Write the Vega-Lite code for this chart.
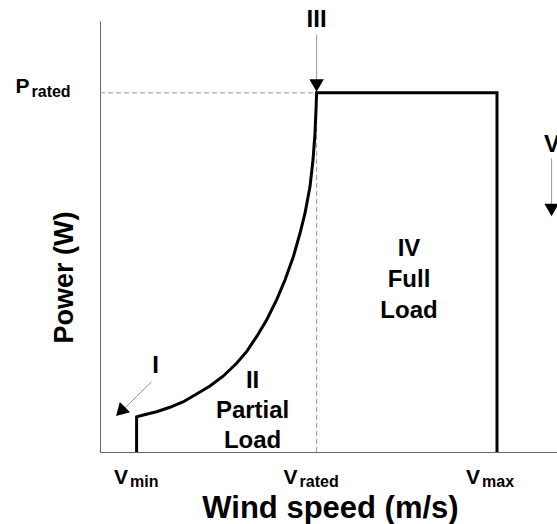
{
  "$schema": "https://vega.github.io/schema/vega-lite/v6.json",
  "width": 457,
  "height": 431,
  "autosize": {"type": "none"},
  "padding": {"left": 100, "top": 21, "right": 0, "bottom": 72},
  "background": "white",
  "config": {"view": {"stroke": null}, "font": "Liberation Sans"},
  "datasets": {
    "power": [
      {"i": 0, "x": 1.83, "y": 0},
      {"i": 1, "x": 1.83, "y": 0.098},
      {"i": 2, "x": 2.17, "y": 0.103},
      {"i": 3, "x": 2.83, "y": 0.112},
      {"i": 4, "x": 3.5, "y": 0.1245},
      {"i": 5, "x": 4.17, "y": 0.14},
      {"i": 6, "x": 4.83, "y": 0.1616},
      {"i": 7, "x": 5.5, "y": 0.184},
      {"i": 8, "x": 6.17, "y": 0.2117},
      {"i": 9, "x": 6.83, "y": 0.247},
      {"i": 10, "x": 7.33, "y": 0.2794},
      {"i": 11, "x": 7.83, "y": 0.321},
      {"i": 12, "x": 8.33, "y": 0.3677},
      {"i": 13, "x": 8.83, "y": 0.4234},
      {"i": 14, "x": 9.25, "y": 0.479},
      {"i": 15, "x": 9.67, "y": 0.544},
      {"i": 16, "x": 10.0, "y": 0.609},
      {"i": 17, "x": 10.25, "y": 0.665},
      {"i": 18, "x": 10.5, "y": 0.739},
      {"i": 19, "x": 10.65, "y": 0.813},
      {"i": 20, "x": 10.75, "y": 0.888},
      {"i": 21, "x": 10.8, "y": 0.953},
      {"i": 22, "x": 10.83, "y": 1.0},
      {"i": 23, "x": 19.85, "y": 1.0},
      {"i": 24, "x": 19.85, "y": 0}
    ],
    "guides": [
      {"x": 0, "y": 1, "x2": 10.83, "y2": 1},
      {"x": 10.83, "y": 0, "x2": 10.83, "y2": 1}
    ],
    "arrows": [
      {"x": 10.83, "y": 1.1616, "x2": 10.83, "y2": 1.03},
      {"x": 2.585, "y": 0.1958, "x2": 1.05, "y2": 0.112},
      {"x": 22.58, "y": 0.818, "x2": 22.58, "y2": 0.69}
    ],
    "headsDown": [
      {"x": 10.83, "y": 1.0203},
      {"x": 22.58, "y": 0.674}
    ],
    "headI": [
      {"x": 1.025, "y": 0.1128}
    ],
    "notes": [
      {"t": "II", "x": 7.63, "y": 0.178},
      {"t": "Partial", "x": 7.63, "y": 0.095},
      {"t": "Load", "x": 7.63, "y": 0.011},
      {"t": "IV", "x": 15.45, "y": 0.546},
      {"t": "Full", "x": 15.45, "y": 0.4596},
      {"t": "Load", "x": 15.45, "y": 0.3733},
      {"t": "III", "x": 10.83, "y": 1.184},
      {"t": "I", "x": 2.775, "y": 0.22},
      {"t": "V", "x": 22.6, "y": 0.836}
    ],
    "ticksX": [
      {"main": "V", "sub": "min", "x": 1.45, "y": 0},
      {"main": "V", "sub": "rated", "x": 9.93, "y": 0},
      {"main": "V", "sub": "max", "x": 19.05, "y": 0}
    ],
    "ticksY": [
      {"main": "P", "sub": "rated", "x": -3.475, "y": 1}
    ]
  },
  "encoding": {
    "x": {
      "field": "x",
      "type": "quantitative",
      "scale": {"domain": [0, 22.85], "nice": false, "zero": false},
      "axis": {
        "title": "Wind speed (m/s)",
        "labels": false,
        "ticks": false,
        "grid": false,
        "domainColor": "#666666",
        "domainWidth": 1,
        "titleFont": "Liberation Sans",
        "titleFontSize": 31,
        "titleFontWeight": "bold",
        "titleColor": "black",
        "titleBaseline": "alphabetic",
        "titleAlign": "center",
        "titleX": 230,
        "titleY": 65
      }
    },
    "y": {
      "field": "y",
      "type": "quantitative",
      "scale": {"domain": [0, 1.2], "nice": false, "zero": false},
      "axis": {
        "title": "Power (W)",
        "labels": false,
        "ticks": false,
        "grid": false,
        "domainColor": "#666666",
        "domainWidth": 1,
        "titleFont": "Liberation Sans",
        "titleFontSize": 27,
        "titleFontWeight": "bold",
        "titleColor": "black",
        "titleBaseline": "alphabetic",
        "titleAlign": "center",
        "titleAngle": 270,
        "titleX": -28,
        "titleY": 256
      }
    }
  },
  "layer": [
    {
      "data": {"name": "guides"},
      "mark": {"type": "rule", "color": "#999999", "strokeWidth": 1, "strokeDash": [5, 3]},
      "encoding": {"x2": {"field": "x2"}, "y2": {"field": "y2"}}
    },
    {
      "data": {"name": "power"},
      "mark": {"type": "line", "color": "black", "strokeWidth": 3, "strokeJoin": "miter"},
      "encoding": {"order": {"field": "i", "type": "quantitative"}}
    },
    {
      "data": {"name": "arrows"},
      "mark": {"type": "rule", "color": "#999999", "strokeWidth": 1},
      "encoding": {"x2": {"field": "x2"}, "y2": {"field": "y2"}}
    },
    {
      "data": {"name": "headsDown"},
      "mark": {"type": "point", "shape": "triangle-down", "size": 210, "filled": true, "color": "black", "opacity": 1, "strokeWidth": 0}
    },
    {
      "data": {"name": "headI"},
      "mark": {"type": "point", "shape": "triangle-down", "size": 210, "filled": true, "color": "black", "opacity": 1, "strokeWidth": 0, "angle": 45}
    },
    {
      "data": {"name": "notes"},
      "mark": {"type": "text", "font": "Liberation Sans", "fontSize": 24, "fontWeight": "bold", "color": "black", "align": "center", "baseline": "alphabetic"},
      "encoding": {"text": {"field": "t", "type": "nominal"}}
    },
    {
      "data": {"name": "ticksX"},
      "mark": {"type": "text", "font": "Liberation Sans", "fontSize": 21, "fontWeight": "bold", "color": "black", "align": "right", "baseline": "alphabetic", "dx": -1, "dy": 32},
      "encoding": {"text": {"field": "main", "type": "nominal"}}
    },
    {
      "data": {"name": "ticksX"},
      "mark": {"type": "text", "font": "Liberation Sans", "fontSize": 16, "fontWeight": "bold", "color": "black", "align": "left", "baseline": "alphabetic", "dx": 1, "dy": 34.5},
      "encoding": {"text": {"field": "sub", "type": "nominal"}}
    },
    {
      "data": {"name": "ticksY"},
      "mark": {"type": "text", "font": "Liberation Sans", "fontSize": 21, "fontWeight": "bold", "color": "black", "align": "right", "baseline": "alphabetic", "dx": -1, "dy": 0},
      "encoding": {"text": {"field": "main", "type": "nominal"}}
    },
    {
      "data": {"name": "ticksY"},
      "mark": {"type": "text", "font": "Liberation Sans", "fontSize": 16, "fontWeight": "bold", "color": "black", "align": "left", "baseline": "alphabetic", "dx": 1, "dy": 4},
      "encoding": {"text": {"field": "sub", "type": "nominal"}}
    }
  ]
}
